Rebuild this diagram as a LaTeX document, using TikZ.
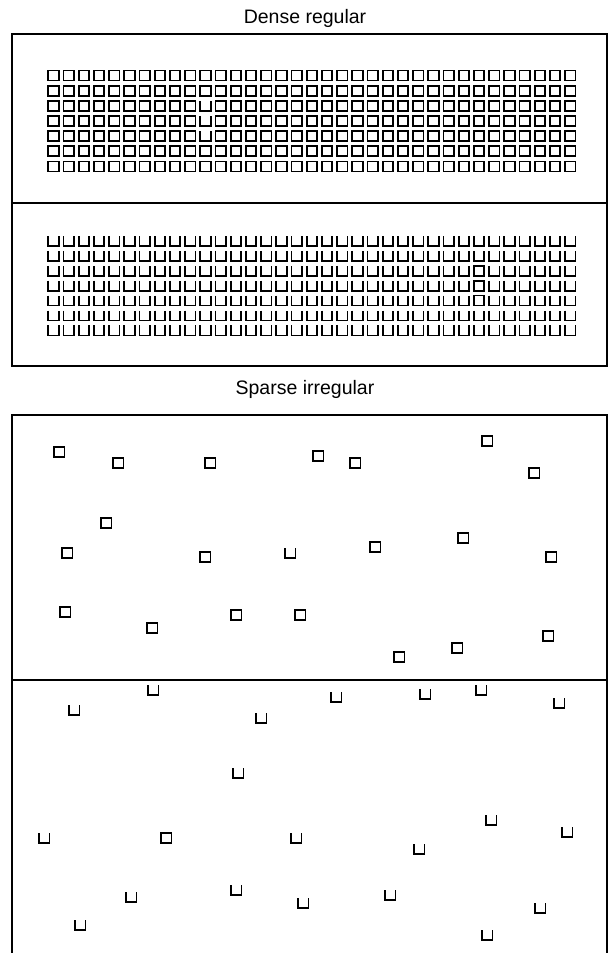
\documentclass[tikz,border=0pt]{standalone}
\usepackage{fontspec}
\setmainfont{Liberation Sans}
\begin{document}
\begin{tikzpicture}[x=1pt,y=-1pt,
  frame/.style={line width=1.4pt,line join=miter},
  dglyph/.style={line width=1.7pt},
  sglyph/.style={line width=1.4pt},
  title/.style={font=\fontsize{19.5}{22}\selectfont,inner sep=0pt}]
\useasboundingbox (0,0) rectangle (610,953);
\newcommand\mysq[3]{\draw[#3] (#1-5.2,#2-5) rectangle (#1+5.2,#2+5);}
\newcommand\myu[3]{\draw[#3] (#1-5.2,#2-5) -- (#1-5.2,#2+5) -- (#1+5.2,#2+5) -- (#1+5.2,#2-5);}
% titles
\node[title] (t1) at (305,18) {Dense regular};
\node[title] (t2) at (305,389) {Sparse irregular};
% frames
\draw[frame] (12,34) rectangle (607,366);
\draw[frame] (12,203) -- (607,203);
\draw[frame] (12,953) -- (12,415) -- (607,415) -- (607,953);
\draw[frame] (12,680) -- (607,680);
% dense grids
\foreach \i in {0,...,34}{
  \foreach \j in {0,...,6}{
    \pgfmathsetmacro\cx{53.5+\i*15.2}
    \pgfmathsetmacro\cy{75.5+\j*15.15}
    \pgfmathsetmacro\cyb{241+\j*14.9}
    \pgfmathtruncatemacro\isU{and(\i==10,and(\j>1,\j<5))}
    \pgfmathtruncatemacro\isS{and(\i==28,and(\j>1,\j<5))}
    \ifnum\isU=1 \myu{\cx}{\cy}{dglyph}\else \mysq{\cx}{\cy}{dglyph}\fi
    \ifnum\isS=1 \mysq{\cx}{\cyb}{dglyph}\else \myu{\cx}{\cyb}{dglyph}\fi
  }
}
% sparse squares
\foreach \x/\y in {59/452,118/463,210/463,318/456,355/463,487/441,534/473,
  106/523,67/553,205/557,375/547,463/538,551/557,
  65/612,152/628,236/615,300/615,399/657,457/648,548/636,166/838}{
  \mysq{\x}{\y}{sglyph}
}
\myu{290}{553}{sglyph}
\foreach \x/\y in {153/690,74/710,261/718,336/697,425/694,481/690,559/703,
  238/773,491/820,567/832,44/838,296/838,419/849,
  131/897,236/890,303/903,390/895,540/908,80/925,487/935}{
  \myu{\x}{\y}{sglyph}
}
\end{tikzpicture}
\end{document}
